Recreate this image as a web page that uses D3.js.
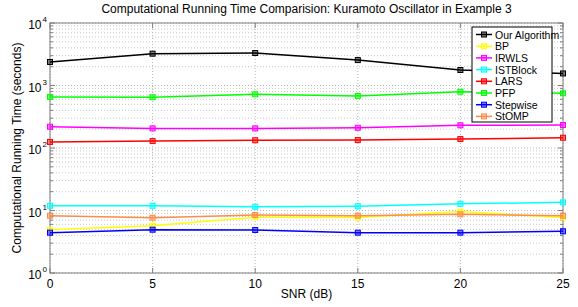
<!DOCTYPE html>
<html lang="en">
<head>
<meta charset="UTF-8">
<title>Computational Running Time</title>
<script src="https://d3js.org/d3.v7.min.js"></script>
<style>
    body { margin: 0; background: #fff; }
    svg text { font-family: "Liberation Sans", Arial, Helvetica, sans-serif; fill: #000; }
</style>
</head>
<body>
<script>
    // data
    const snr = [0, 5, 10, 15, 20, 25]
    const seriesNames = ["Our Algorithm", "BP", "IRWLS", "ISTBlock", "LARS", "PFP", "Stepwise", "StOMP"]
    const seriesColors = ["#000000", "#ffff00", "#ff00ff", "#00ffff", "#ff0000", "#00ff00", "#0000ff", "#ff8c4a"]
    const ourAlgorithm = [2380, 3230, 3310, 2550, 1770, 1560]
    const bp = [4.9, 5.7, 7.8, 7.7, 9.6, 7.7]
    const irwls = [219, 206, 206, 211, 231, 233]
    const istBlock = [11.9, 11.9, 11.5, 11.7, 12.8, 13.5]
    const lars = [125, 129, 133, 134, 139, 146]
    const pfp = [655, 650, 723, 680, 796, 750]
    const stepwise = [4.42, 4.93, 4.88, 4.42, 4.42, 4.65]
    const stomp = [8.26, 7.67, 8.47, 8.26, 8.69, 8.26]
    const xTicks = [0, 5, 10, 15, 20, 25]
    const yExponents = [0, 1, 2, 3, 4]

    const series = [ourAlgorithm, bp, irwls, istBlock, lars, pfp, stepwise, stomp]

    const W = 578, H = 307
    const margin = { top: 23, right: 15, bottom: 34, left: 50 }
    const width = W - margin.left - margin.right
    const height = H - margin.top - margin.bottom

    const x = d3.scaleLinear().domain([0, 25]).range([0, width])
    const y = d3.scaleLog().domain([1, 10000]).range([height, 0])

    const svg = d3.select("body").append("svg")
        .attr("width", W)
        .attr("height", H)
    const g = svg.append("g")
        .attr("transform", "translate(" + margin.left + "," + margin.top + ")")

    // minor values per decade
    const minor = []
    yExponents.slice(0, -1).forEach(e => {
        for (let k = 2; k <= 9; k++) minor.push(k * Math.pow(10, e))
    })
    const major = yExponents.map(e => Math.pow(10, e))

    // grid
    g.selectAll(".minor-grid").data(minor).enter().append("line")
        .attr("x1", 0).attr("x2", width)
        .attr("y1", d => y(d)).attr("y2", d => y(d))
        .attr("stroke", "#c8c8c8").attr("stroke-width", 1)
        .attr("stroke-dasharray", "1,2")
    g.selectAll(".major-grid").data(major).enter().append("line")
        .attr("x1", 0).attr("x2", width)
        .attr("y1", d => y(d)).attr("y2", d => y(d))
        .attr("stroke", "#b8b8b8").attr("stroke-width", 1)
        .attr("stroke-dasharray", "1,2")
    g.selectAll(".x-grid").data(xTicks).enter().append("line")
        .attr("x1", d => x(d)).attr("x2", d => x(d))
        .attr("y1", 0).attr("y2", height)
        .attr("stroke", "#b8b8b8").attr("stroke-width", 1)
        .attr("stroke-dasharray", "1,2")

    // ticks (inward, on all sides)
    const tickColor = "#7f7f7f"
    xTicks.forEach(t => {
        g.append("line").attr("x1", x(t)).attr("x2", x(t)).attr("y1", height).attr("y2", height - 5).attr("stroke", tickColor)
        g.append("line").attr("x1", x(t)).attr("x2", x(t)).attr("y1", 0).attr("y2", 5).attr("stroke", tickColor)
    })
    major.forEach(v => {
        g.append("line").attr("x1", 0).attr("x2", 5).attr("y1", y(v)).attr("y2", y(v)).attr("stroke", tickColor)
        g.append("line").attr("x1", width).attr("x2", width - 5).attr("y1", y(v)).attr("y2", y(v)).attr("stroke", tickColor)
    })
    minor.forEach(v => {
        g.append("line").attr("x1", 0).attr("x2", 3).attr("y1", y(v)).attr("y2", y(v)).attr("stroke", tickColor)
        g.append("line").attr("x1", width).attr("x2", width - 3).attr("y1", y(v)).attr("y2", y(v)).attr("stroke", tickColor)
    })

    // frame
    g.append("rect")
        .attr("width", width).attr("height", height)
        .attr("fill", "none").attr("stroke", "#7f7f7f").attr("stroke-width", 1)

    // x tick labels
    g.selectAll(".x-label").data(xTicks).enter().append("text")
        .attr("x", d => x(d)).attr("y", height + 15)
        .attr("text-anchor", "middle")
        .style("font-size", "12px")
        .text(d => d)

    // y tick labels 10^k
    yExponents.forEach(e => {
        const t = g.append("text")
            .attr("x", -3).attr("y", y(Math.pow(10, e)) + 6)
            .attr("text-anchor", "end")
            .style("font-size", "12px")
        t.append("tspan").text("10")
        t.append("tspan").attr("dx", 1).attr("dy", -7).style("font-size", "8px").text(e)
    })

    // lines and markers
    const line = d3.line()
        .x((d, i) => x(snr[i]))
        .y(d => y(d))

    series.forEach((vals, s) => {
        g.append("path")
            .attr("d", line(vals))
            .attr("fill", "none")
            .attr("stroke", seriesColors[s])
            .attr("stroke-width", 1.5)
        g.selectAll(".m" + s).data(vals).enter().append("rect")
            .attr("x", (d, i) => x(snr[i]) - 2.5)
            .attr("y", d => y(d) - 2.5)
            .attr("width", 5).attr("height", 5)
            .attr("fill", seriesColors[s])
            .attr("fill-opacity", 0.5)
            .attr("stroke", seriesColors[s])
            .attr("stroke-width", 1)
    })

    // legend
    const legend = svg.append("g").attr("transform", "translate(472,27)")
    legend.append("rect")
        .attr("width", 80).attr("height", 95)
        .attr("fill", "#fff").attr("stroke", "#000").attr("stroke-width", 1)
    seriesNames.forEach((name, i) => {
        const ly = 7.5 + i * 11.7
        legend.append("line")
            .attr("x1", 4).attr("x2", 20).attr("y1", ly).attr("y2", ly)
            .attr("stroke", seriesColors[i]).attr("stroke-width", 1.5)
        legend.append("rect")
            .attr("x", 9.5).attr("y", ly - 2.5).attr("width", 5).attr("height", 5)
            .attr("fill", seriesColors[i]).attr("fill-opacity", 0.5)
            .attr("stroke", seriesColors[i])
        legend.append("text")
            .attr("x", 23).attr("y", ly + 4)
            .style("font-size", "10.5px")
            .text(name)
    })

    // titles
    svg.append("text")
        .attr("x", margin.left + width / 2).attr("y", 13)
        .attr("text-anchor", "middle")
        .style("font-size", "12px")
        .text("Computational Running Time Comparision: Kuramoto Oscillator in Example 3")
    svg.append("text")
        .attr("x", margin.left + width / 2).attr("y", 298)
        .attr("text-anchor", "middle")
        .style("font-size", "12px")
        .text("SNR (dB)")
    svg.append("text")
        .attr("transform", "translate(21," + (margin.top + height / 2) + ") rotate(-90)")
        .attr("text-anchor", "middle")
        .style("font-size", "12px")
        .text("Computational Running Time (seconds)")
</script>
</body>
</html>
